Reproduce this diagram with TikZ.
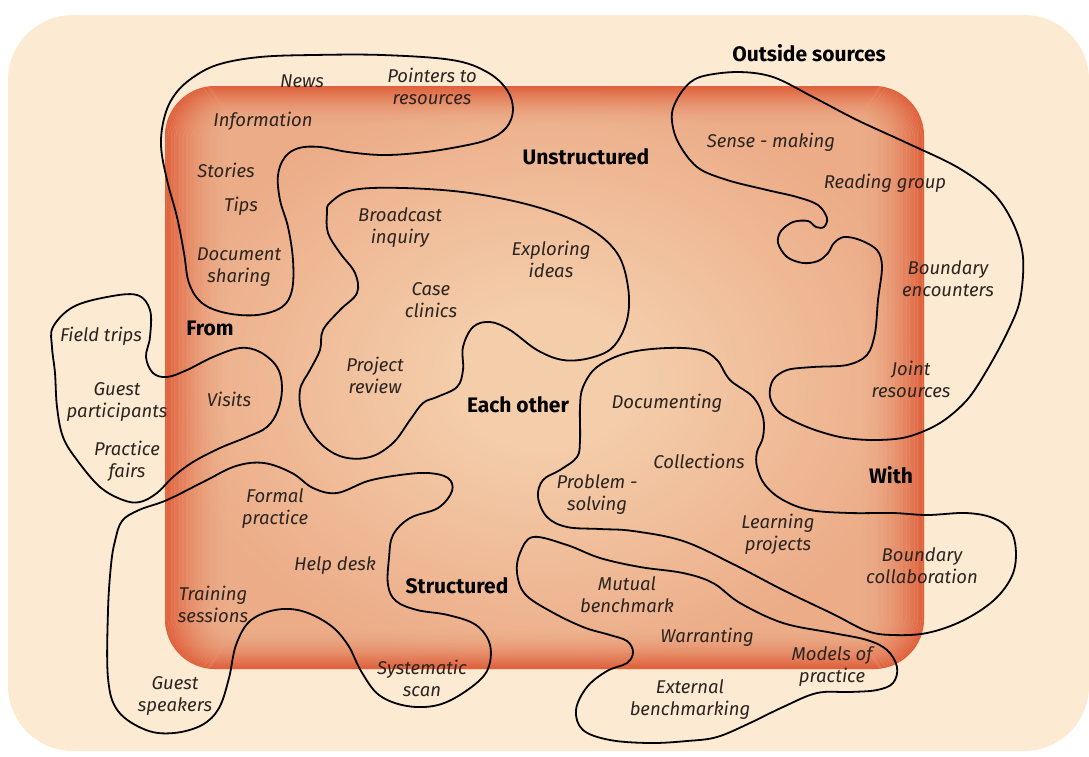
\documentclass[tikz,border=0pt]{standalone}
\usepackage{fontspec}
\setmainfont{Fira Sans}
\definecolor{cream}{HTML}{FCEBD2}
\definecolor{glowred}{HTML}{E0603C}
\definecolor{glowpeach}{HTML}{ECAC88}
\definecolor{corelight}{HTML}{F4CDAA}
\definecolor{ink}{HTML}{2B2420}
\pgfdeclareradialshading{coreglow}{\pgfpoint{0bp}{0bp}}{color(0bp)=(corelight); color(6bp)=(corelight); color(25bp)=(glowpeach); color(50bp)=(glowpeach)}
\begin{document}
\begin{tikzpicture}[x=1pt,y=-1pt,
  blob/.style={draw=black, line width=1.8pt, line join=round},
  lbl/.style={font=\itshape\fontsize{18.5}{22}\selectfont, text=ink, align=center, inner sep=0pt},
  head/.style={font=\bfseries\fontsize{21}{22}\selectfont, text=black, inner sep=0pt}]
\useasboundingbox (0,0) rectangle (1089,756);
% cream backdrop
\fill[cream, rounded corners=65pt] (8,15) rectangle (1089,751);
% orange panel: light centre, glowing red rim
\shade[shading=coreglow, rounded corners=50pt] (165,86) rectangle (924,669);
\foreach \k in {0,...,39}{
  \pgfmathsetmacro\a{(1-\k/40)^2}
  \pgfmathsetmacro\r{max(50-\k,6)}
  \pgfmathsetmacro\rr{max(49-\k,6)}
  \fill[glowred, fill opacity=\a, even odd rule]
    [rounded corners=\r pt] (165+1.6*\k,86+\k) rectangle (924-1.6*\k,669-\k)
    [rounded corners=\rr pt] (166.6+1.6*\k,87+\k) rectangle (922.4-1.6*\k,668-\k);
}

% clusters
\draw[blob] plot[smooth cycle, tension=0.6] coordinates {(195,76) (220,64) (260,57) (313,55) (382,55) (452,60) (487,72) (507,90) (513,110) (506,128) (487,140) (452,148) (417,153) (382,155) (348,152) (320,147) (299,148) (285,157) (278,175) (280,200) (288,227) (293,260) (292,290) (282,307) (257,315) (226,313) (202,303) (189,283) (184,253) (177,217) (167,180) (161,145) (165,115) (176,93)};
\draw[blob] plot[smooth cycle, tension=0.6] coordinates {(53,327) (73,307) (107,297) (137,295) (150,310) (150,337) (146,357) (153,373) (167,377) (187,370) (213,357) (240,348) (260,352) (277,367) (282,387) (278,410) (267,427) (247,437) (220,448) (193,462) (173,477) (157,493) (140,502) (123,500) (100,487) (77,460) (63,437) (57,407) (55,373) (52,347)};
\draw[blob] plot[smooth cycle, tension=0.6] coordinates {(111,565) (108,611) (108,678) (118,711) (146,730) (174,733) (202,725) (219,708) (229,678) (236,645) (250,621) (275,610) (302,611) (330,625) (348,645) (361,671) (379,695) (407,706) (438,705) (466,691) (487,671) (490,645) (476,625) (448,615) (417,610) (396,601) (388,585) (389,558) (393,535) (410,518) (438,508) (452,491) (448,478) (428,473) (400,475) (368,481) (337,493) (313,488) (292,473) (264,463) (236,466) (205,481) (167,500) (139,510) (122,521) (115,541)};
\draw[blob] plot[smooth cycle, tension=0.6] coordinates {(330,203) (353,190) (403,188) (470,193) (537,207) (587,227) (617,253) (628,287) (627,320) (613,347) (590,358) (563,360) (537,350) (510,330) (490,322) (473,327) (463,347) (463,370) (457,387) (437,397) (423,403) (410,420) (393,443) (370,457) (343,457) (320,443) (303,417) (300,390) (310,370) (320,350) (323,330) (340,310) (357,293) (355,273) (340,253) (328,233) (327,213)};
\draw[blob] plot[smooth cycle, tension=0.6] coordinates {(580,407) (583,387) (597,367) (627,353) (667,348) (700,350) (717,360) (730,380) (753,397) (763,417) (763,437) (757,452) (757,467) (765,485) (783,500) (810,510) (850,513) (893,513) (927,515) (966,513) (993,518) (1011,531) (1016,555) (1011,578) (993,601) (962,621) (927,633) (893,635) (867,631) (833,614) (783,590) (733,564) (683,541) (633,531) (600,529) (567,527) (547,517) (538,497) (543,480) (560,470) (577,457) (580,440)};
\draw[blob] plot[smooth cycle, tension=0.6] coordinates {(533,537) (567,545) (600,558) (640,567) (683,573) (713,583) (740,603) (783,623) (833,633) (867,640) (887,650) (897,667) (893,683) (877,690) (850,692) (817,693) (783,707) (750,723) (717,737) (687,741) (650,743) (610,740) (583,730) (576,710) (587,687) (607,671) (627,663) (633,652) (627,641) (610,635) (583,627) (550,611) (525,594) (517,573) (520,553)};
\draw[blob] plot[smooth cycle, tension=0.55] coordinates {(700,77) (737,72) (773,77) (813,97) (857,120) (907,143) (957,167) (993,193) (1013,223) (1023,257) (1020,300) (1007,333) (987,370) (967,400) (940,423) (907,437) (873,440) (840,437) (807,427) (780,413) (770,397) (773,380) (787,370) (813,367) (847,365) (867,355) (875,333) (878,300) (882,267) (877,250) (860,240) (844,237) (834,243) (828,253) (818,261) (803,263) (787,257) (778,243) (781,231) (793,222) (808,221) (816,227) (824,227) (827,218) (818,205) (797,197) (767,190) (727,180) (697,167) (677,140) (672,113) (683,90)};

% headings
\node[head] (outside) at (809,53) {Outside sources};
\node[head] (unstructured) at (586,157) {Unstructured};
\node[head] (from) at (210,328) {From};
\node[head] (eachother) at (518,405) {Each other};
\node[head] (with) at (891,475) {With};
\node[head] (structured) at (457,586) {Structured};

% activities
\node[lbl] (news) at (302,81) {News};
\node[lbl] (pointers) at (432,86) {Pointers to\\resources};
\node[lbl] (info) at (263,121) {Information};
\node[lbl] (stories) at (226,170) {Stories};
\node[lbl] (tips) at (241,206) {Tips};
\node[lbl] (docshare) at (239,267) {Document\\sharing};
\node[lbl] (broadcast) at (400,228) {Broadcast\\inquiry};
\node[lbl] (exploring) at (551,259) {Exploring\\ideas};
\node[lbl] (case) at (431,300) {Case\\clinics};
\node[lbl] (project) at (375,375) {Project\\review};
\node[lbl] (field) at (101,336) {Field trips};
\node[lbl] (guestp) at (117,402) {Guest\\participants};
\node[lbl] (visits) at (229,399) {Visits};
\node[lbl] (fairs) at (127,461) {Practice\\fairs};
\node[lbl] (formal) at (275,509) {Formal\\practice};
\node[lbl] (help) at (335,566) {Help desk};
\node[lbl] (training) at (213,604) {Training\\sessions};
\node[lbl] (guests) at (175,696) {Guest\\speakers};
\node[lbl] (scan) at (422,678) {Systematic\\scan};
\node[lbl] (sense) at (771,142) {Sense - making};
\node[lbl] (reading) at (885,183) {Reading group};
\node[lbl] (bencount) at (948,279) {Boundary\\encounters};
\node[lbl] (joint) at (911,379) {Joint\\resources};
\node[lbl] (documenting) at (667,403) {Documenting};
\node[lbl] (collections) at (699,461) {Collections};
\node[lbl] (problem) at (597,495) {Problem -\\solving};
\node[lbl] (learning) at (778,534) {Learning\\projects};
\node[lbl] (bcollab) at (922,566) {Boundary\\collaboration};
\node[lbl] (mutual) at (627,595) {Mutual\\benchmark};
\node[lbl] (warrant) at (707,637) {Warranting};
\node[lbl] (models) at (832,667) {Models of\\practice};
\node[lbl] (external) at (690,700) {External\\benchmarking};
\end{tikzpicture}
\end{document}
